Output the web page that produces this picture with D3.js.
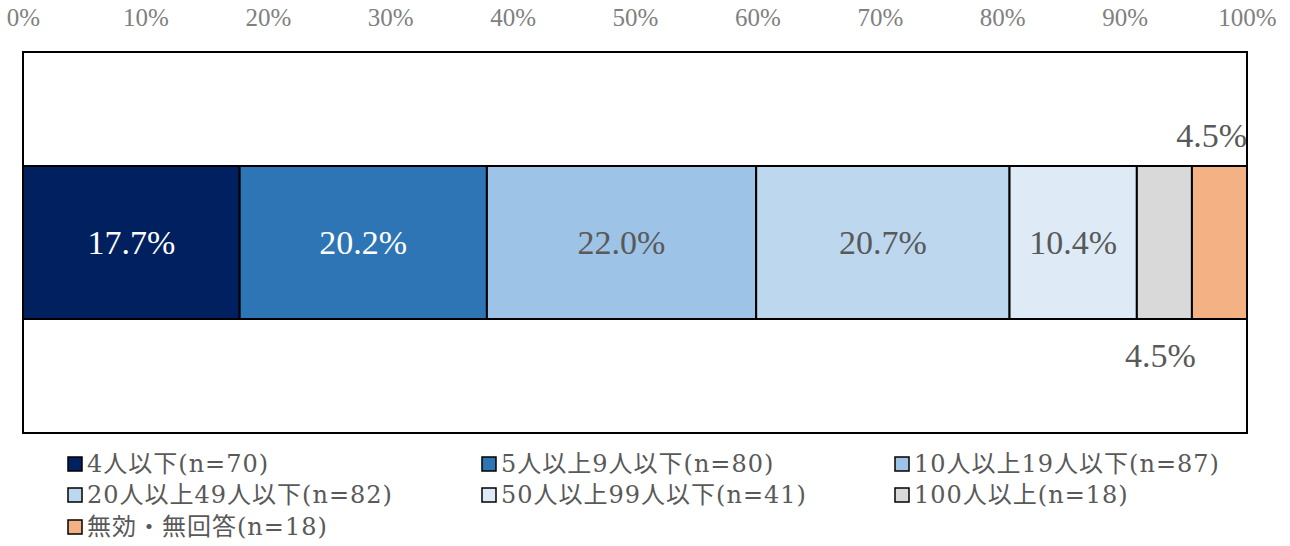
<!DOCTYPE html>
<html>
<head>
<meta charset="utf-8">
<script src="https://cdn.jsdelivr.net/npm/d3@7"></script>
<style>
  body { margin: 0; background: #fff; }
  svg { display: block; font-family: "Liberation Serif", "Noto Sans CJK JP", serif; }
</style>
</head>
<body>
<div id="container"></div>
<script>
/* DATA */
const categories = ["4人以下", "5人以上9人以下", "10人以上19人以下", "20人以上49人以下", "50人以上99人以下", "100人以上", "無効・無回答"];
const counts = [70, 80, 87, 82, 41, 18, 18];
const percents = [17.7, 20.2, 22.0, 20.7, 10.4, 4.5, 4.5];
const colors = ["#002060", "#2E75B6", "#9DC3E6", "#BDD7EE", "#DEEBF7", "#D9D9D9", "#F4B183"];
const labelColors = ["#ffffff", "#ffffff", "#595959", "#595959", "#595959", "#595959", "#595959"];
const ticks = [0, 10, 20, 30, 40, 50, 60, 70, 80, 90, 100];

/* CONSTANTS */
const width = 1290;
const height = 546;
const margin = { top: 52, left: 23, right: 43, bottom: 113 };

// stacked segments
let acc = 0;
const segs = percents.map((p, i) => {
  const s = { i, start: acc, end: acc + p, p };
  acc += p;
  return s;
});

/* SCALES */
const xScale = d3.scaleLinear()
  .domain([0, 100])
  .range([margin.left, width - margin.right]);

const yScale = d3.scaleBand()
  .domain(["all"])
  .range([margin.top, height - margin.bottom])
  .paddingInner(0)
  .paddingOuter(0.745);

const svg = d3.select("#container")
  .append("svg")
  .attr("width", width)
  .attr("height", height);

/* TOP AXIS */
const xAxis = d3.axisTop(xScale)
  .tickValues(ticks)
  .tickFormat(d => d + "%")
  .tickSize(0)
  .tickPadding(0);

const axisG = svg.append("g")
  .attr("transform", `translate(0,26)`)
  .call(xAxis);
axisG.select(".domain").remove();
axisG.selectAll("text")
  .attr("fill", "#808080")
  .style("font-size", "25px")
  .style("font-family", "Liberation Serif, serif");

/* BARS */
const bandY = yScale("all");
const bandH = yScale.bandwidth();

svg.selectAll("rect.seg")
  .data(segs)
  .join("rect")
  .attr("class", "seg")
  .attr("x", d => xScale(d.start))
  .attr("y", bandY)
  .attr("width", d => xScale(d.end) - xScale(d.start))
  .attr("height", bandH)
  .attr("fill", d => colors[d.i])
  .attr("stroke", "#000")
  .attr("stroke-width", 2);

// plot frame
svg.append("rect")
  .attr("x", xScale(0))
  .attr("y", margin.top)
  .attr("width", xScale(100) - xScale(0))
  .attr("height", height - margin.bottom - margin.top)
  .attr("fill", "none")
  .attr("stroke", "#000")
  .attr("stroke-width", 2);

/* LABELS */
svg.selectAll("text.lbl")
  .data(segs.filter(d => d.p > 5))
  .join("text")
  .attr("class", "lbl")
  .attr("x", d => xScale((d.start + d.end) / 2))
  .attr("y", bandY + bandH / 2)
  .attr("dy", "0.35em")
  .attr("text-anchor", "middle")
  .attr("fill", d => labelColors[d.i])
  .style("font-size", "34px")
  .text(d => d.p.toFixed(1) + "%");

// small segments: gray one below, last one above
const small = segs.filter(d => d.p <= 5);
svg.append("text")
  .attr("x", xScale((small[0].start + small[0].end) / 2) - 4)
  .attr("y", bandY + bandH + 36)
  .attr("dy", "0.35em")
  .attr("text-anchor", "middle")
  .attr("fill", labelColors[small[0].i])
  .style("font-size", "34px")
  .text(small[0].p.toFixed(1) + "%");

svg.append("text")
  .attr("x", xScale(100))
  .attr("y", bandY - 31)
  .attr("dy", "0.35em")
  .attr("text-anchor", "end")
  .attr("fill", labelColors[small[1].i])
  .style("font-size", "34px")
  .text(small[1].p.toFixed(1) + "%");

/* LEGEND */
const legCols = [68, 482, 895];
const legRows = [464, 495, 527];

const leg = svg.selectAll("g.leg")
  .data(categories)
  .join("g")
  .attr("class", "leg")
  .attr("transform", (d, i) => `translate(${legCols[i % 3]},${legRows[Math.floor(i / 3)]})`);

leg.append("rect")
  .attr("x", 0)
  .attr("y", -7)
  .attr("width", 14)
  .attr("height", 14)
  .attr("fill", (d, i) => colors[i])
  .attr("stroke", "#000")
  .attr("stroke-width", 1.5);

leg.append("text")
  .attr("x", 19)
  .attr("y", 0)
  .attr("dy", "0.35em")
  .attr("fill", "#595959")
  .style("font-size", "24px")
  .style("letter-spacing", "1px")
  .style("font-family", "DejaVu Serif, Noto Sans CJK JP, serif")
  .text((d, i) => `${d}(n=${counts[i]})`);
</script>
</body>
</html>
